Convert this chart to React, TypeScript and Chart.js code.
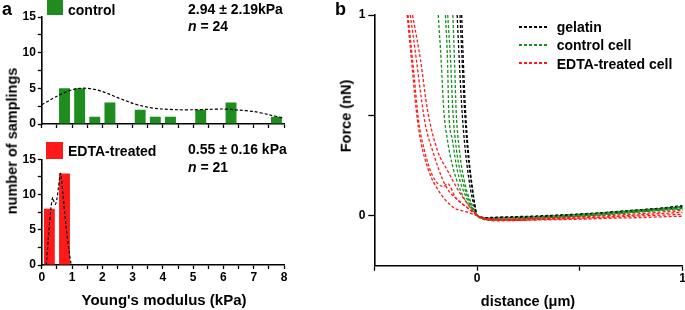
import React, { useEffect, useRef } from 'react';
import { Chart, registerables } from 'chart.js';

Chart.register(...registerables);

const FONT = "'Liberation Sans', Arial, Helvetica, sans-serif";
const GREEN = '#1e8c1e';
const GREEN_LINE = '#14901a';
const RED = '#ff1a1a';

// ---------- Panel a: histograms ----------
const controlBins = [0.75, 1.25, 1.75, 2.25, 3.25, 3.75, 4.25, 5.25, 6.25, 7.75];
const controlCounts = [5, 5, 1, 3, 2, 1, 1, 2, 3, 1];
const controlFitX = [0, 0.25, 0.5, 0.75, 1, 1.25, 1.5, 1.75, 2, 2.25, 2.5, 2.75, 3, 3.25, 3.5, 3.75, 4, 4.5, 5, 5.5, 6, 6.5, 7, 7.5, 8];
const controlFitY = [2.7, 3.3, 3.9, 4.4, 4.8, 5.0, 5.0, 4.85, 4.55, 4.15, 3.7, 3.3, 2.9, 2.6, 2.35, 2.2, 2.1, 2.0, 2.0, 2.05, 2.1, 1.95, 1.75, 1.3, 0.8];

const edtaBins = [0.25, 0.75];
const edtaCounts = [8, 13];
const edtaFitX = [0.15, 0.22, 0.3, 0.36, 0.4, 0.45, 0.5, 0.55, 0.62, 0.7, 0.8, 0.9, 0.97];
const edtaFitY = [0, 4, 8, 9.6, 9.0, 8.6, 9.4, 11, 13, 10, 5.5, 2, 0];

const histXTicks = [0, 0.5, 1, 1.5, 2, 2.5, 3, 3.5, 4, 4.5, 5, 5.5, 6, 6.5, 7, 7.5, 8];
const histXLabels = [0, 1, 2, 3, 4, 5, 6, 7, 8];
const histYTicks = [0, 2.5, 5, 7.5, 10, 12.5, 15];
const histYLabels = [0, 5, 10, 15];

// ---------- Panel b: force curves ----------
const gelatin1X = [-0.097, -0.088, -0.078, -0.066, -0.05, -0.032, -0.015, 0, 0.05, 0.1, 0.2, 0.3, 0.4, 0.5, 0.6, 0.7, 0.8, 0.9, 1.0];
const gelatin1Y = [1, 0.8, 0.6, 0.42, 0.26, 0.13, 0.05, 0, -0.012, -0.01, -0.008, -0.004, 0.0, 0.006, 0.012, 0.02, 0.028, 0.036, 0.045];
const gelatin2X = [-0.083, -0.074, -0.065, -0.054, -0.04, -0.025, -0.012, 0, 0.05, 0.1, 0.2, 0.3, 0.4, 0.5, 0.6, 0.7, 0.8, 0.9, 1.0];
const gelatin2Y = [1, 0.8, 0.6, 0.42, 0.26, 0.14, 0.055, 0, -0.015, -0.012, -0.01, -0.006, -0.002, 0.004, 0.01, 0.016, 0.024, 0.032, 0.04];
const gelatin3X = [-0.075, -0.068, -0.06, -0.05, -0.037, -0.023, -0.01, 0, 0.05, 0.1, 0.2, 0.3, 0.4, 0.5, 0.6, 0.7, 0.8, 0.9, 1.0];
const gelatin3Y = [1, 0.8, 0.6, 0.42, 0.26, 0.14, 0.05, 0, -0.01, -0.008, -0.005, -0.002, 0.003, 0.008, 0.014, 0.022, 0.03, 0.038, 0.05];

const control1X = [-0.189, -0.175, -0.162, -0.144, -0.12, -0.081, -0.033, 0, 0.05, 0.1, 0.2, 0.3, 0.4, 0.5, 0.6, 0.7, 0.8, 0.9, 1.0];
const control1Y = [1, 0.775, 0.525, 0.375, 0.25, 0.125, 0.04, 0, -0.018, -0.02, -0.016, -0.012, -0.006, 0.0, 0.008, 0.016, 0.024, 0.032, 0.04];
const control2X = [-0.154, -0.144, -0.138, -0.12, -0.096, -0.057, -0.02, 0, 0.05, 0.1, 0.2, 0.3, 0.4, 0.5, 0.6, 0.7, 0.8, 0.9, 1.0];
const control2Y = [1, 0.775, 0.525, 0.375, 0.225, 0.1, 0.03, 0, -0.02, -0.022, -0.018, -0.012, -0.008, -0.002, 0.004, 0.012, 0.02, 0.028, 0.035];
const control3X = [-0.143, -0.129, -0.118, -0.1, -0.071, -0.033, -0.012, 0, 0.05, 0.1, 0.2, 0.3, 0.4, 0.5, 0.6, 0.7, 0.8, 0.9, 1.0];
const control3Y = [1, 0.775, 0.525, 0.325, 0.175, 0.06, 0.02, 0, -0.016, -0.014, -0.01, -0.006, 0.0, 0.006, 0.012, 0.02, 0.028, 0.036, 0.045];
const control4X = [-0.118, -0.11, -0.102, -0.086, -0.057, -0.023, -0.008, 0, 0.05, 0.1, 0.2, 0.3, 0.4, 0.5, 0.6, 0.7, 0.8, 0.9, 1.0];
const control4Y = [1, 0.775, 0.525, 0.325, 0.15, 0.05, 0.015, 0, -0.022, -0.024, -0.02, -0.016, -0.01, -0.004, 0.002, 0.01, 0.018, 0.026, 0.03];

const edta1X = [-0.34, -0.319, -0.296, -0.275, -0.236, -0.188, -0.115, -0.057, 0, 0.05, 0.1, 0.2, 0.3, 0.4, 0.5, 0.6, 0.7, 0.8, 0.9, 1.0];
const edta1Y = [1, 0.775, 0.525, 0.375, 0.225, 0.125, 0.04, 0.02, 0, -0.02, -0.022, -0.024, -0.022, -0.02, -0.018, -0.015, -0.012, -0.01, -0.006, -0.003];
const edta2X = [-0.325, -0.295, -0.27, -0.251, -0.217, -0.154, -0.073, -0.03, 0, 0.05, 0.1, 0.2, 0.3, 0.4, 0.5, 0.6, 0.7, 0.8, 0.9, 1.0];
const edta2Y = [1, 0.775, 0.575, 0.45, 0.325, 0.15, 0.06, 0.025, 0, -0.018, -0.02, -0.02, -0.018, -0.016, -0.013, -0.01, -0.006, -0.002, 0.002, 0.006];
const edta3X = [-0.314, -0.275, -0.241, -0.193, -0.144, -0.091, -0.033, -0.012, 0, 0.05, 0.1, 0.2, 0.3, 0.4, 0.5, 0.6, 0.7, 0.8, 0.9, 1.0];
const edta3Y = [1, 0.775, 0.525, 0.325, 0.225, 0.125, 0.04, 0.015, 0, -0.022, -0.026, -0.024, -0.02, -0.016, -0.012, -0.008, -0.002, 0.004, 0.01, 0.016];
const edta4X = [-0.336, -0.309, -0.285, -0.256, -0.217, -0.163, -0.144, -0.105, -0.042, 0, 0.05, 0.1, 0.2, 0.3, 0.4, 0.5, 0.6, 0.7, 0.8, 0.9, 1.0];
const edta4Y = [1, 0.725, 0.475, 0.325, 0.2, 0.145, 0.16, 0.09, 0.035, 0, -0.015, -0.018, -0.016, -0.013, -0.01, -0.006, -0.002, 0.004, 0.01, 0.018, 0.025];

const forceXTicks = [-0.5, 0, 0.5, 1];
const forceXLabels = [0, 1];
const forceYTicks = [0, 0.5, 1];
const forceYLabels = [0, 1];

const legendNames = ['gelatin', 'control cell', 'EDTA-treated cell'];
const legendColors = ['#000000', GREEN_LINE, RED];

const zip = (xs: number[], ys: number[]) => xs.map((x, i) => ({ x, y: ys[i] }));

function makeAxis(o: {
  min: number; max: number; ticks: number[]; labels: number[]; horizontal: boolean;
  size: number; tickLength: number; padding: number; showLabels: boolean;
}) {
  return {
    type: 'linear',
    min: o.min,
    max: o.max,
    offset: false,
    afterBuildTicks: (s: any) => { s.ticks = o.ticks.map((v) => ({ value: v })); },
    afterFit: (s: any) => { if (o.horizontal) s.height = o.size; else s.width = o.size; },
    grid: {
      display: true, drawOnChartArea: false, drawTicks: true, offset: false,
      tickLength: o.tickLength, tickColor: '#000', tickWidth: 1.3,
    },
    border: { display: true, color: '#000', width: 1.6 },
    ticks: {
      display: o.showLabels, autoSkip: false, maxRotation: 0, minRotation: 0,
      padding: o.padding, color: '#000',
      font: { family: FONT, size: 12, weight: 'bold' },
      callback: (v: any) => {
        const hit = o.labels.find((l) => Math.abs(l - Number(v)) < 1e-6);
        return hit === undefined ? '' : String(hit);
      },
    },
  };
}

function ChartBox({ left, top, width, height, make }: any) {
  const ref = useRef<HTMLCanvasElement>(null);
  useEffect(() => {
    const chart = new Chart(ref.current as HTMLCanvasElement, make());
    return () => chart.destroy();
  }, []);
  return (
    <canvas
      ref={ref}
      width={width}
      height={height}
      style={{ position: 'absolute', left, top, width, height }}
    />
  );
}

const baseOptions = {
  responsive: false,
  animation: false,
  devicePixelRatio: 1,
  events: [],
  plugins: { legend: { display: false }, tooltip: { enabled: false } },
};

function histConfig(bins: number[], counts: number[], fitX: number[], fitY: number[], color: string, showX: boolean, padTop: number, xHeight: number) {
  return () => ({
    type: 'bar',
    data: {
      datasets: [
        {
          type: 'line',
          data: zip(fitX, fitY),
          borderColor: '#000',
          borderWidth: 1.2,
          borderDash: [3, 2],
          pointRadius: 0,
          tension: 0.3,
          order: 0,
        },
        {
          type: 'bar',
          data: zip(bins, counts),
          backgroundColor: color,
          borderWidth: 0,
          barPercentage: 0.72,
          categoryPercentage: 1,
          order: 1,
        },
      ],
    },
    options: {
      ...baseOptions,
      layout: { padding: { top: padTop, right: 16, left: 0, bottom: 0 } },
      scales: {
        x: makeAxis({ min: 0, max: 8, ticks: histXTicks, labels: histXLabels, horizontal: true, size: xHeight, tickLength: 4, padding: 1, showLabels: showX }),
        y: makeAxis({ min: 0, max: 15, ticks: histYTicks, labels: histYLabels, horizontal: false, size: 41.8, tickLength: 4, padding: 2, showLabels: true }),
      },
    },
  });
}

function forceConfig() {
  const ds = (xs: number[], ys: number[], color: string) => ({
    data: zip(xs, ys),
    borderColor: color,
    borderWidth: 1.3,
    borderDash: [3, 2],
    pointRadius: 0,
    cubicInterpolationMode: 'monotone',
  });
  return {
    type: 'line',
    data: {
      datasets: [
        ds(edta1X, edta1Y, RED),
        ds(edta2X, edta2Y, RED),
        ds(edta3X, edta3Y, RED),
        ds(edta4X, edta4Y, RED),
        ds(control1X, control1Y, GREEN_LINE),
        ds(control2X, control2Y, GREEN_LINE),
        ds(control3X, control3Y, GREEN_LINE),
        ds(control4X, control4Y, GREEN_LINE),
        ds(gelatin1X, gelatin1Y, '#000'),
        ds(gelatin2X, gelatin2Y, '#000'),
        ds(gelatin3X, gelatin3Y, '#000'),
      ],
    },
    options: {
      ...baseOptions,
      layout: { padding: { top: 15, right: 17.3, left: 0, bottom: 0 } },
      scales: {
        x: makeAxis({ min: -0.5, max: 1, ticks: forceXTicks, labels: forceXLabels, horizontal: true, size: 44.3, tickLength: 5, padding: 1, showLabels: true }),
        y: makeAxis({ min: -0.25, max: 1, ticks: forceYTicks, labels: forceYLabels, horizontal: false, size: 39.3, tickLength: 6, padding: 3, showLabels: true }),
      },
    },
  };
}

const txt = (size: number, extra: any = {}) => ({
  position: 'absolute' as const,
  fontFamily: FONT,
  fontWeight: 'bold' as const,
  fontSize: size,
  lineHeight: 1,
  whiteSpace: 'nowrap' as const,
  color: '#000',
  ...extra,
});

export default function App() {
  return (
    <div style={{ position: 'fixed', left: 0, top: 0, width: 685, height: 310, overflow: 'hidden', background: '#fff' }}>
      <ChartBox left={0} top={0} width={300} height={140}
        make={histConfig(controlBins, controlCounts, controlFitX, controlFitY, GREEN, false, 17, 16)} />
      <ChartBox left={0} top={140} width={300} height={170}
        make={histConfig(edtaBins, edtaCounts, edtaFitX, edtaFitY, RED, true, 19.3, 45)} />
      <ChartBox left={335} top={0} width={365} height={310} make={forceConfig} />

      {/* panel letters */}
      <div style={txt(18, { left: 2, top: 0 })}>a</div>
      <div style={txt(18, { left: 335, top: 0 })}>b</div>

      {/* panel a legends & stats */}
      <div style={{ position: 'absolute', left: 46.7, top: 0, width: 16.6, height: 15.3, background: GREEN }} />
      <div style={txt(14, { left: 68, top: 3 })}>control</div>
      <div style={txt(14, { left: 188, top: 1.5 })}>2.94 ± 2.19kPa</div>
      <div style={txt(14, { left: 188, top: 18.8 })}><i>n</i> = 24</div>

      <div style={{ position: 'absolute', left: 45.7, top: 142.3, width: 17, height: 16.7, background: RED }} />
      <div style={txt(14, { left: 68, top: 144.2 })}>EDTA-treated</div>
      <div style={txt(14, { left: 188, top: 141.5 })}>0.55 ± 0.16 kPa</div>
      <div style={txt(14, { left: 188, top: 159.8 })}><i>n</i> = 21</div>

      {/* panel a axis titles */}
      <div style={txt(15, { left: 164, top: 291.5, transform: 'translateX(-50%)' })}>Young's modulus (kPa)</div>
      <div style={txt(14.5, { left: 12, top: 141, transform: 'translate(-50%, -50%) rotate(-90deg)' })}>number of samplings</div>

      {/* panel b axis titles */}
      <div style={txt(14.5, { left: 528, top: 294.4, transform: 'translateX(-50%)' })}>distance (μm)</div>
      <div style={txt(14.5, { left: 346, top: 116, transform: 'translate(-50%, -50%) rotate(-90deg)' })}>Force (nN)</div>

      {/* panel b legend */}
      {legendNames.map((name, i) => (
        <React.Fragment key={name}>
          <div style={{
            position: 'absolute', left: 519.3, top: 26 + i * 18, width: 30, height: 1.5,
            background: `repeating-linear-gradient(to right, ${legendColors[i]} 0 3px, transparent 3px 5px)`,
          }} />
          <div style={txt(14, { left: 556.7, top: 19.5 + i * 18.8 })}>{name}</div>
        </React.Fragment>
      ))}
    </div>
  );
}
